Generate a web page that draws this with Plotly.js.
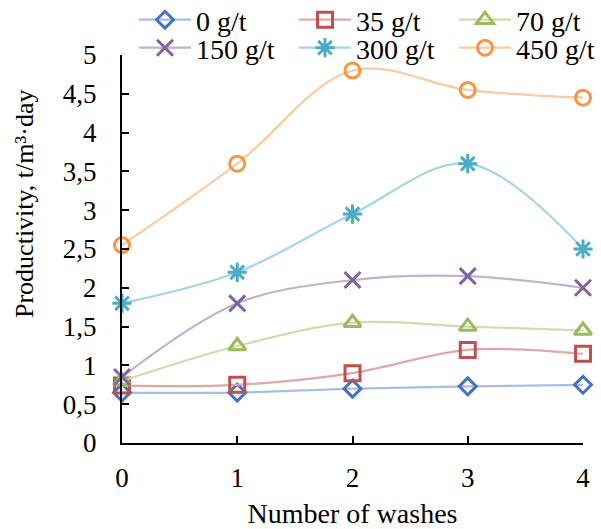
<!DOCTYPE html>
<html>
<head>
<meta charset="utf-8">
<script src="https://cdn.plot.ly/plotly-3.0.1.min.js"></script>
<style>html,body{margin:0;padding:0;background:#fff;}#chart{width:601px;height:529px;}</style>
</head>
<body>
<div id="chart"></div>
<script>
// Number of washes on the x axis
const washes = [0, 1, 2, 3, 4];

// Productivity (t/m³·day) for each reagent dosage
const dose0   = [0.65, 0.65, 0.70, 0.73, 0.75];
const dose35  = [0.74, 0.75, 0.90, 1.20, 1.15];
const dose70  = [0.80, 1.25, 1.55, 1.50, 1.45];
const dose150 = [0.85, 1.80, 2.10, 2.15, 2.00];
const dose300 = [1.80, 2.20, 2.95, 3.60, 2.50];
const dose450 = [2.55, 3.60, 4.80, 4.55, 4.45];

const seriesNames = ['0 g/t', '35 g/t', '70 g/t', '150 g/t', '300 g/t', '450 g/t'];
const seriesValues = [dose0, dose35, dose70, dose150, dose300, dose450];
const colors = ['#4472C4', '#C0504D', '#9BBB59', '#8064A2', '#4BACC6', '#F79646'];
const lineColors = ['#A9BEE4', '#E0A9A7', '#CDDDAD', '#C0B2D1', '#A5D6E3', '#FBCBA3'];
const symbols = ['diamond-open', 'square-open', 'triangle-up-open', 'x-thin-open', 'asterisk-open', 'circle-open'];
const sizes = [13, 15, 15, 16, 16, 15];

const xTitle = 'Number of washes';
const yTitle = 'Productivity, t/m³·day';

const font = '"Liberation Serif", "Times New Roman", serif';

// each series gets its own legend box, laid out as a 3 x 2 grid above the plot
const legendIds = ['legend', 'legend2', 'legend3', 'legend4', 'legend5', 'legend6'];
const legendCol = [0, 1, 2, 0, 1, 2];
const legendRowY = [20, 48];

const traces = seriesNames.map((name, i) => ({
  x: washes,
  y: seriesValues[i],
  name: name,
  legend: legendIds[i],
  type: 'scatter',
  mode: 'lines+markers',
  line: {color: lineColors[i], width: 2.2, shape: 'spline', smoothing: 1},
  marker: {symbol: symbols[i], size: sizes[i], color: colors[i], line: {color: colors[i], width: 3}},
  cliponaxis: false
}));

const layout = {
  width: 601,
  height: 529,
  margin: {l: 122, r: 18, t: 55, b: 86, autoexpand: false},
  paper_bgcolor: '#fff',
  plot_bgcolor: '#fff',
  font: {family: font, size: 27, color: '#000'},
  separators: ', ',
  showlegend: true,
  xaxis: {
    range: [0, 4],
    tickvals: washes,
    ticks: 'inside', ticklen: 7, tickwidth: 2, tickcolor: '#000',
    showline: true, linecolor: '#000', linewidth: 2,
    showgrid: false, zeroline: false,
    ticklabelstandoff: 10,
    tickfont: {family: font, size: 27},
    title: {text: xTitle, font: {family: font, size: 28}, standoff: 16}
  },
  yaxis: {
    range: [0, 5],
    dtick: 0.5, tick0: 0,
    ticks: 'inside', ticklen: 7, tickwidth: 2, tickcolor: '#000',
    showline: true, linecolor: '#000', linewidth: 2,
    showgrid: false, zeroline: false,
    ticklabelstandoff: 18,
    tickfont: {family: font, size: 27}
  },
  // the y-axis caption sits above the axis midpoint
  annotations: [{
    text: yTitle,
    xref: 'paper', yref: 'paper',
    x: -98 / 461, y: (443 - 204) / 388,
    xanchor: 'center', yanchor: 'middle',
    textangle: -90, showarrow: false,
    font: {family: font, size: 26, color: '#000'}
  }]
};

legendIds.forEach((id, i) => {
  const row = i < 3 ? 0 : 1;
  layout[id] = {
    orientation: 'h',
    xref: 'container', yref: 'container',
    x: (134 + 160 * legendCol[i]) / 601,
    y: 1 - legendRowY[row] / 529,
    xanchor: 'left', yanchor: 'middle',
    font: {family: font, size: 28, color: '#000'},
    itemwidth: 52,
    bgcolor: 'rgba(0,0,0,0)'
  };
});

Plotly.newPlot('chart', traces, layout, {displayModeBar: false, staticPlot: true});
</script>
</body>
</html>
